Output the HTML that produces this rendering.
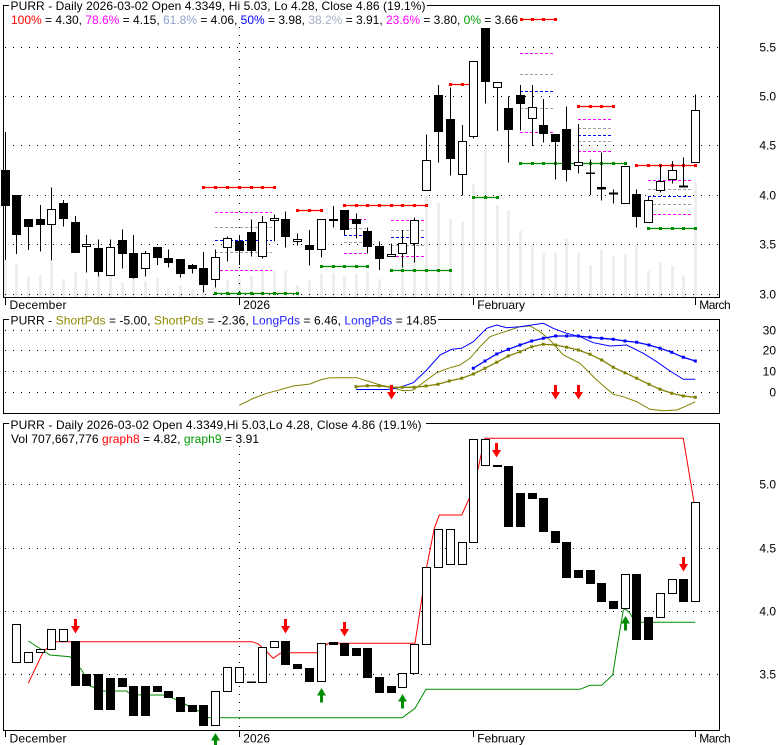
<!DOCTYPE html>
<html><head><meta charset="utf-8"><style>
html,body{margin:0;padding:0;background:#fff;}
svg{display:block;}
text{font-family:"Liberation Sans",Arial,sans-serif;font-size:12px;fill:#000;}
</style></head><body>
<svg width="780" height="745" viewBox="0 0 780 745" xmlns="http://www.w3.org/2000/svg">
<rect width="780" height="745" fill="#fff"/>

<!-- ============ TOP PANEL ============ -->
<!-- volume bars -->
<path stroke="#eeeeee" stroke-width="3" fill="none" d="M5.5 260V297M16.5 264V297M28.5 276.7V297M40.5 275V297M51.5 261.7V297M63.5 279V297M75.5 271.7V297M86.5 279V297M98.5 276.7V297M110.5 275.7V297M122.5 282.3V297M133.5 278.3V297M145.5 281.7V297M157.5 278V297M168.5 288.3V297M180.5 285V297M192.5 290V297M203.5 285V297M215.5 287.7V297M227.5 280V297M239.5 278.3V297M251.5 276V297M262.5 268V297M274.5 270.7V297M285.5 270.7V297M297.5 285V297M309.5 280V297M321.5 274V297M333.5 273.3V297M344.5 276V297M356.5 274V297M367.5 271.7V297M379.5 279.3V297M391.5 289.3V297M402.5 265V297M414.5 260V297M426.5 195V297M438.5 202.7V297M450.5 219V297M462.5 221.7V297M473.5 184.3V297M485.5 146.7V297M497.5 205V297M508.5 211V297M520.5 230.7V297M532.5 245V297M543.5 252.7V297M555.5 252.7V297M566.5 239V297M578.5 252.7V297M590.5 265V297M601.5 250V297M613.5 256.7V297M625.5 254V297M636.5 245V297M648.5 270.7V297M660.5 261.7V297M672.5 266V297M683.5 275.7V297M695.5 182.3V297"/>
<!-- gridlines -->
<path stroke="#000" stroke-width="1" stroke-dasharray="1 7" fill="none" d="M5 47.5H719M5 96.5H719M5 145.5H719M5 195.5H719M5 244.5H719M5 294.5H719M239.5 27V297"/>
<!-- fib dashed -->
<path stroke="#ff00ff" stroke-width="1" stroke-dasharray="3 2" fill="none" d="M215 212.5H272M215 270.5H272M344 219.5H366M344 253.5H366M391 220.5H424M391 256.5H424M520 53.5H553M520 132.5H553M578 119.5H613M578 151.5H613M648 180.5H693M648 214.5H693"/>
<path stroke="#a0a0a0" stroke-width="1" stroke-dasharray="3 2" fill="none" d="M215 227.5H272M215 252.5H272M344 228.5H366M344 242.5H366M391 230.5H424M391 245.5H424M520 74.5H553M520 108.5H553M578 128.5H613M578 141.5H613M648 189.5H693M648 204.5H693"/>
<path stroke="#0000ff" stroke-width="1" stroke-dasharray="3 2" fill="none" d="M215 240.5H272M344 235.5H366M391 237.5H424M520 91.5H553M578 135.5H613M648 196.5H693"/>
<!-- fib red solid -->
<path stroke="#ff0000" stroke-width="1.2" fill="none" d="M203.5 187.5H274.5M297.5 210.5H321.5M344.5 205.5H426.5M450.5 84.5H473.5M521 19.5H555.5M578.5 106.5H613.5M636.5 165.5H695.5"/>
<path fill="#ff0000" d="M202 186h3v3h-3zM214 186h3v3h-3zM226 186h3v3h-3zM238 186h3v3h-3zM250 186h3v3h-3zM261 186h3v3h-3zM273 186h3v3h-3zM296 209h3v3h-3zM308 209h3v3h-3zM320 209h3v3h-3zM343 204h3v3h-3zM355 204h3v3h-3zM366 204h3v3h-3zM378 204h3v3h-3zM390 204h3v3h-3zM401 204h3v3h-3zM413 204h3v3h-3zM425 204h3v3h-3zM449 83h3v3h-3zM461 83h3v3h-3zM520 18h3v3h-3zM531 18h3v3h-3zM542 18h3v3h-3zM554 18h3v3h-3zM577 105h3v3h-3zM589 105h3v3h-3zM600 105h3v3h-3zM612 105h3v3h-3zM635 164h3v3h-3zM647 164h3v3h-3zM659 164h3v3h-3zM671 164h3v3h-3zM682 164h3v3h-3zM694 164h3v3h-3z"/>
<!-- fib green solid -->
<path stroke="#008c00" stroke-width="1.2" fill="none" d="M215.5 293.5H297.5M321.5 266.5H367.5M391.5 270.5H450.5M473.5 197.5H497.5M520.5 163.5H625.5M648.5 228.5H695.5"/>
<path fill="#008c00" d="M214 292h3v3h-3zM226 292h3v3h-3zM238 292h3v3h-3zM250 292h3v3h-3zM261 292h3v3h-3zM273 292h3v3h-3zM284 292h3v3h-3zM296 292h3v3h-3zM320 265h3v3h-3zM332 265h3v3h-3zM343 265h3v3h-3zM355 265h3v3h-3zM366 265h3v3h-3zM390 269h3v3h-3zM401 269h3v3h-3zM413 269h3v3h-3zM425 269h3v3h-3zM437 269h3v3h-3zM449 269h3v3h-3zM472 196h3v3h-3zM484 196h3v3h-3zM496 196h3v3h-3zM519 162h3v3h-3zM531 162h3v3h-3zM542 162h3v3h-3zM554 162h3v3h-3zM565 162h3v3h-3zM577 162h3v3h-3zM589 162h3v3h-3zM600 162h3v3h-3zM612 162h3v3h-3zM624 162h3v3h-3zM647 227h3v3h-3zM659 227h3v3h-3zM671 227h3v3h-3zM682 227h3v3h-3zM694 227h3v3h-3z"/>
<!-- wicks -->
<path stroke="#000" stroke-width="1" fill="none" d="M5.5 132V260M16.5 195.5V254M28.5 219V250M40.5 205V251.5M51.5 187.5V260.5M63.5 200V226.5M75.5 216V252.5M86.5 235V272.5M98.5 239.5V276.5M110.5 239.5V275.5M122.5 229.5V268.5M133.5 235V278.5M145.5 251V276.5M157.5 247.5V265M168.5 249.5V267.5M180.5 259V277.5M192.5 264V273.5M203.5 252V292.5M215.5 249.5V287.5M227.5 236.5V261.5M239.5 236V265M251.5 219.5V256.5M262.5 216V258.5M274.5 214.5V241.5M285.5 211.5V247.5M297.5 233.5V245.5M309.5 230V265.5M321.5 219.5V257.5M333.5 206V227.5M344.5 210V235M356.5 213.5V238.5M367.5 227.5V253.5M379.5 241.5V270M391.5 243.5V256.5M402.5 230V267.5M414.5 217.5V262.5M426.5 134.5V190.5M438.5 85V162.5M450.5 87.5V175.5M462.5 125V195.5M473.5 61.5V138.5M485.5 28.5V103.5M497.5 82.5V131M508.5 96.5V162.5M520.5 85V130.5M532.5 85V146M543.5 99V142.5M555.5 134.5V179.5M566.5 106.5V181.5M578.5 124V173.5M590.5 159.5V195M601.5 152.5V200.5M613.5 189.5V203.5M625.5 166V203.5M636.5 189.5V227.5M648.5 196.5V222.5M660.5 164.5V192.5M672.5 161V183.5M683.5 157.5V187.5M695.5 94.5V162.5"/>
<!-- black bodies -->
<g fill="#000" stroke="#000" stroke-width="1">
<rect x="1.5" y="170.5" width="8" height="35"/>
<rect x="12.5" y="195.5" width="8" height="39"/>
<rect x="24.5" y="219.5" width="8" height="7"/>
<rect x="36.5" y="219.5" width="8" height="5"/>
<rect x="59.5" y="203.5" width="8" height="15"/>
<rect x="71.5" y="222.5" width="8" height="30"/>
<rect x="94.5" y="248.5" width="8" height="23"/>
<rect x="118.5" y="240.5" width="8" height="13"/>
<rect x="129.5" y="253.5" width="8" height="24"/>
<rect x="153.5" y="247.5" width="8" height="10"/>
<rect x="164.5" y="258.5" width="8" height="4"/>
<rect x="176.5" y="259.5" width="8" height="14"/>
<rect x="188.5" y="265.5" width="8" height="3"/>
<rect x="199.5" y="268.5" width="8" height="16"/>
<rect x="235.5" y="241.5" width="8" height="9"/>
<rect x="247.5" y="232.5" width="8" height="18"/>
<rect x="281.5" y="219.5" width="8" height="17"/>
<rect x="305.5" y="245.5" width="8" height="4"/>
<rect x="329.5" y="219.5" width="8" height="1"/>
<rect x="340.5" y="210.5" width="8" height="19"/>
<rect x="352.5" y="219.5" width="8" height="4"/>
<rect x="363.5" y="231.5" width="8" height="15"/>
<rect x="375.5" y="246.5" width="8" height="12"/>
<rect x="434.5" y="95.5" width="8" height="36"/>
<rect x="446.5" y="119.5" width="8" height="39"/>
<rect x="481.5" y="28.5" width="8" height="53"/>
<rect x="504.5" y="108.5" width="8" height="21"/>
<rect x="516.5" y="95.5" width="8" height="8"/>
<rect x="539.5" y="125.5" width="8" height="8"/>
<rect x="551.5" y="134.5" width="8" height="7"/>
<rect x="562.5" y="129.5" width="8" height="40"/>
<rect x="586.5" y="173" width="8" height="0.5"/>
<rect x="597.5" y="187.5" width="8" height="1.5"/>
<rect x="609.5" y="193" width="8" height="1"/>
<rect x="632.5" y="194.5" width="8" height="22"/>
<rect x="679.5" y="186" width="8" height="1"/>
</g>
<!-- white bodies -->
<g fill="#fff" stroke="#000" stroke-width="1">
<rect x="47.5" y="209.5" width="8" height="15"/>
<rect x="82.5" y="244.5" width="8" height="2"/>
<rect x="106.5" y="247.5" width="8" height="28"/>
<rect x="141.5" y="253.5" width="8" height="15"/>
<rect x="211.5" y="257.5" width="8" height="22"/>
<rect x="223.5" y="238.5" width="8" height="9"/>
<rect x="258.5" y="222.5" width="8" height="34"/>
<rect x="270.5" y="218.5" width="8" height="2"/>
<rect x="293.5" y="239.5" width="8" height="2"/>
<rect x="317.5" y="219.5" width="8" height="30"/>
<rect x="387.5" y="254.5" width="8" height="2"/>
<rect x="398.5" y="243.5" width="8" height="10"/>
<rect x="410.5" y="220.5" width="8" height="23"/>
<rect x="422.5" y="160.5" width="8" height="30"/>
<rect x="458.5" y="141.5" width="8" height="33"/>
<rect x="469.5" y="61.5" width="8" height="75"/>
<rect x="493.5" y="82.5" width="8" height="5"/>
<rect x="528.5" y="107.5" width="8" height="11"/>
<rect x="574.5" y="162.5" width="8" height="3"/>
<rect x="621.5" y="166.5" width="8" height="37"/>
<rect x="644.5" y="200.5" width="8" height="22"/>
<rect x="656.5" y="181.5" width="8" height="9"/>
<rect x="668.5" y="170.5" width="8" height="9"/>
<rect x="691.5" y="110.5" width="8" height="52"/>
</g>
<!-- frame -->
<path stroke="#000" stroke-width="1" fill="none" d="M9 5.5H3.5V297.5H719.5V5.5H427"/>
<!-- ticks -->
<path stroke="#000" stroke-width="1" d="M5.5 298V305M239.5 298V305M473.5 298V305M695.5 298V305"/>
<!-- titles -->
<text x="10.5" y="10" textLength="415">PURR - Daily 2026-03-02 Open 4.3349, Hi 5.03, Lo 4.28, Close 4.86 (19.1%)</text>
<text x="11" y="24" textLength="507"><tspan fill="#ff0000">100%</tspan> = 4.30, <tspan fill="#ff00ff">78.6%</tspan> = 4.15, <tspan fill="#8ea3cc">61.8%</tspan> = 4.06, <tspan fill="#0000ff">50%</tspan> = 3.98, <tspan fill="#a7aec6">38.2%</tspan> = 3.91, <tspan fill="#ff00ff">23.6%</tspan> = 3.80, <tspan fill="#00a000">0%</tspan> = 3.66</text>
<!-- price labels -->
<g text-anchor="end" fill="#222">
<text x="776" y="51.5">5.5</text>
<text x="776" y="100.5">5.0</text>
<text x="776" y="149.5">4.5</text>
<text x="776" y="199.5">4.0</text>
<text x="776" y="248.5">3.5</text>
<text x="776" y="298.5">3.0</text>
</g>
<!-- x labels top -->
<text x="9.5" y="309" textLength="57">December</text>
<text x="243.3" y="309" textLength="26.7">2026</text>
<text x="477.3" y="309" textLength="47.7">February</text>
<text x="699.3" y="309" textLength="31.4">March</text>

<!-- ============ MIDDLE PANEL ============ -->
<path stroke="#000" stroke-width="1" stroke-dasharray="1 7" fill="none" d="M5 330.5H719M5 350.5H719M5 371.5H719M5 392.5H719"/>
<polyline fill="none" stroke="#808000" stroke-width="1" points="239.3,405.3 253.3,398.3 266.7,393.3 276.7,390.7 293.3,386 310,384 320,380 330,377.7 356.7,377.7 370,381.7 380,385 390,387 403.3,390.7 413.3,390 426.7,380 436.7,372.7 448.3,368.3 460,365 470,358.3 480,346.7 490,336.7 500,333.3 510,330 520,326.7 530,326 540,331.7 550,340 563.3,355 580,363.3 596.7,380 613.3,394.3 623.3,396.7 636.7,401.7 650,409.3 663.3,410.7 676.7,410 683.3,407.3 695.3,401.7"/>
<polyline fill="none" stroke="#0000ff" stroke-width="1" points="356,389.5 388,389.5 400,387.3 413.3,382.7 426.7,370 440,355 451.7,349.3 461.7,348.3 473.3,341.7 486.7,328.3 496.7,325 506.7,327.7 520,326.7 530,325.3 543.3,323.3 553.3,328.3 566.7,333.3 580,336.7 593.3,342.7 610,346 626.7,345 643.3,353.3 656.7,361.7 670,371 683.3,379.3 695.3,379.3"/>
<polyline fill="none" stroke="#808000" stroke-width="1.3" points="356,386.7 367.3,385.7 379.3,385.7 391,387.3 402.3,387.3 414,387.3 426,386 438,384.3 449.3,381 461.7,378.3 473.3,374 485,368.3 496.7,362.3 508.3,356 520,351.7 531.7,346.7 543.3,344.3 555.7,345 566.7,347.3 578.3,350 590,354.3 601.7,360 613.3,367.3 625,372.7 636.7,378.3 649,384.3 660,389.3 671.7,393.3 683.3,396 695.3,397.3"/>
<path fill="#808000" d="M354.5 385.2h3v3h-3zM365.8 384.2h3v3h-3zM377.8 384.2h3v3h-3zM389.5 385.8h3v3h-3zM400.8 385.8h3v3h-3zM412.5 385.8h3v3h-3zM424.5 384.5h3v3h-3zM436.5 382.8h3v3h-3zM447.8 379.5h3v3h-3zM460.2 376.8h3v3h-3zM471.8 372.5h3v3h-3zM483.5 366.8h3v3h-3zM495.2 360.8h3v3h-3zM506.8 354.5h3v3h-3zM518.5 350.2h3v3h-3zM530.2 345.2h3v3h-3zM541.8 342.8h3v3h-3zM554.2 343.5h3v3h-3zM565.2 345.8h3v3h-3zM576.8 348.5h3v3h-3zM588.5 352.8h3v3h-3zM600.2 358.5h3v3h-3zM611.8 365.8h3v3h-3zM623.5 371.2h3v3h-3zM635.2 376.8h3v3h-3zM647.5 382.8h3v3h-3zM658.5 387.8h3v3h-3zM670.2 391.8h3v3h-3zM681.8 394.5h3v3h-3zM693.8 395.8h3v3h-3z"/>
<polyline fill="none" stroke="#0000ff" stroke-width="1.3" points="473.3,368.3 485,361 496.7,354 508.3,349.3 520,345 531.7,341 543.3,338.3 555.7,336 566.7,336 578.3,336 590,337.3 601.7,338.3 613.3,339.3 625,341 636.7,342.3 649,345 660,348.3 671.7,352.3 683.3,357.3 695.3,361"/>
<path fill="#0000ff" d="M471.8 366.8h3v3h-3zM483.5 359.5h3v3h-3zM495.2 352.5h3v3h-3zM506.8 347.8h3v3h-3zM518.5 343.5h3v3h-3zM530.2 339.5h3v3h-3zM541.8 336.8h3v3h-3zM554.2 334.5h3v3h-3zM565.2 334.5h3v3h-3zM576.8 334.5h3v3h-3zM588.5 335.8h3v3h-3zM600.2 336.8h3v3h-3zM611.8 337.8h3v3h-3zM623.5 339.5h3v3h-3zM635.2 340.8h3v3h-3zM647.5 343.5h3v3h-3zM658.5 346.8h3v3h-3zM670.2 350.8h3v3h-3zM681.8 355.8h3v3h-3zM693.8 359.5h3v3h-3z"/>
<path fill="#ff0000" d="M390 385h3v7h3l-4.5 7.5l-4.5-7.5h3zM554 385h3v7h3l-4.5 7.5l-4.5-7.5h3zM577 385h3v7h3l-4.5 7.5l-4.5-7.5h3z"/>
<path stroke="#000" stroke-width="1" fill="none" d="M9 319.5H3.5V413.5H719.5V319.5H438"/>
<text x="10.5" y="324.3" textLength="426">PURR - <tspan fill="#8b8b00">ShortPds</tspan> = -5.00, <tspan fill="#8b8b00">ShortPds</tspan> = -2.36, <tspan fill="#2020ff">LongPds</tspan> = 6.46, <tspan fill="#2020ff">LongPds</tspan> = 14.85</text>
<g text-anchor="end" fill="#222">
<text x="776" y="334.5">30</text>
<text x="776" y="354.5">20</text>
<text x="776" y="375.5">10</text>
<text x="776" y="396.5">0</text>
</g>

<!-- ============ BOTTOM PANEL ============ -->
<path stroke="#000" stroke-width="1" stroke-dasharray="1 7" fill="none" d="M5 484.5H719M5 548.5H719M5 611.5H719M5 674.5H719M239.5 446V730"/>
<polyline fill="none" stroke="#ff0000" stroke-width="1" points="28.3,683.3 43.3,651.7 55,641.7 252.3,641.7 258.3,644 265,650 273.3,658.3 280,653.3 283,652.7 316.7,652.7 328.3,643.3 415,643.3 421.7,599.3 426.7,566.7 434.3,528.3 439.3,515 461.7,515 469,499 473.5,484 478.3,468 481,455 485,438.3 683.3,438.3 694,502.3"/>
<polyline fill="none" stroke="#008c00" stroke-width="1" points="28.3,641 50,655 70,656.7 81.7,670 90,686 103.3,691 126.7,691 128.3,692.7 140,695 163,695 173.3,698.3 186.7,705 200,711.7 208.3,717.7 402.3,717.7 415,708.3 426,689.3 580,689.3 590,685.3 601.7,685.3 612.7,675 618.3,640 623.3,610 625.7,609.3 630,613.3 635,622.3 695.3,622.3"/>
<g fill="#000" stroke="#000" stroke-width="1">
<rect x="71.5" y="641.5" width="8" height="44"/>
<rect x="82.5" y="674.5" width="8" height="11"/>
<rect x="94.5" y="674.5" width="8" height="35"/>
<rect x="106.5" y="678.5" width="8" height="31"/>
<rect x="118.5" y="678.5" width="8" height="8"/>
<rect x="129.5" y="686.5" width="8" height="29"/>
<rect x="141.5" y="686.5" width="8" height="29"/>
<rect x="153.5" y="686.5" width="8" height="5"/>
<rect x="164.5" y="691.5" width="8" height="6"/>
<rect x="176.5" y="697.5" width="8" height="14"/>
<rect x="188.5" y="705.5" width="8" height="6"/>
<rect x="199.5" y="705.5" width="8" height="20"/>
<rect x="247.5" y="682" width="8" height="0.5"/>
<rect x="281.5" y="641.5" width="8" height="23"/>
<rect x="293.5" y="664.5" width="8" height="4"/>
<rect x="305.5" y="668.5" width="8" height="13"/>
<rect x="329.5" y="642.5" width="8" height="2"/>
<rect x="340.5" y="643.5" width="8" height="12"/>
<rect x="352.5" y="648.5" width="8" height="7"/>
<rect x="363.5" y="648.5" width="8" height="29"/>
<rect x="375.5" y="677.5" width="8" height="15"/>
<rect x="387.5" y="686.5" width="8" height="6"/>
<rect x="493.5" y="465.5" width="8" height="1"/>
<rect x="504.5" y="466.5" width="8" height="60"/>
<rect x="516.5" y="493.5" width="8" height="33"/>
<rect x="528.5" y="493.5" width="8" height="5"/>
<rect x="539.5" y="498.5" width="8" height="33"/>
<rect x="551.5" y="531.5" width="8" height="11"/>
<rect x="562.5" y="542.5" width="8" height="35"/>
<rect x="574.5" y="570.5" width="8" height="7"/>
<rect x="586.5" y="570.5" width="8" height="13"/>
<rect x="597.5" y="583.5" width="8" height="18"/>
<rect x="609.5" y="601.5" width="8" height="7"/>
<rect x="632.5" y="574.5" width="8" height="65"/>
<rect x="644.5" y="617.5" width="8" height="22"/>
<rect x="679.5" y="579.5" width="8" height="22"/>
</g>
<g fill="#fff" stroke="#000" stroke-width="1">
<rect x="12.5" y="624.5" width="8" height="38"/>
<rect x="24.5" y="652.5" width="8" height="10"/>
<rect x="36.5" y="649.5" width="8" height="3"/>
<rect x="47.5" y="629.5" width="8" height="20"/>
<rect x="59.5" y="629.5" width="8" height="12"/>
<rect x="211.5" y="691.5" width="8" height="34"/>
<rect x="223.5" y="667.5" width="8" height="24"/>
<rect x="235.5" y="667.5" width="8" height="15"/>
<rect x="258.5" y="647.5" width="8" height="35"/>
<rect x="270.5" y="641.5" width="8" height="6"/>
<rect x="317.5" y="643.5" width="8" height="38"/>
<rect x="398.5" y="673.5" width="8" height="14"/>
<rect x="410.5" y="644.5" width="8" height="29"/>
<rect x="422.5" y="567.5" width="8" height="77"/>
<rect x="434.5" y="529.5" width="8" height="38"/>
<rect x="446.5" y="529.5" width="8" height="35"/>
<rect x="458.5" y="542.5" width="8" height="22"/>
<rect x="469.5" y="439.5" width="8" height="103"/>
<rect x="481.5" y="439.5" width="8" height="26"/>
<rect x="621.5" y="574.5" width="8" height="34"/>
<rect x="656.5" y="593.5" width="8" height="24"/>
<rect x="668.5" y="579.5" width="8" height="14"/>
<rect x="691.5" y="502.5" width="8" height="99"/>
</g>
<!-- arrows -->
<path fill="#ff0000" d="M74 619h3v7h3l-4.5 7.5l-4.5-7.5h3zM284 619h3v7h3l-4.5 7.5l-4.5-7.5h3zM343 622h3v7h3l-4.5 7.5l-4.5-7.5h3zM495 443h3v7h3l-4.5 7.5l-4.5-7.5h3zM682 557h3v7h3l-4.5 7.5l-4.5-7.5h3z"/>
<path fill="#008c00" d="M215.5 733l4.5 7.5h-3v7h-3v-7h-3zM321.5 688l4.5 7.5h-3v7h-3v-7h-3zM402.5 694l4.5 7.5h-3v7h-3v-7h-3zM625.5 616l4.5 7.5h-3v7h-3v-7h-3z"/>
<path stroke="#000" stroke-width="1" fill="none" d="M9 423.5H3.5V730.5H719.5V423.5H426"/>
<path stroke="#000" stroke-width="1" d="M5.5 731V737M239.5 731V737M473.5 731V737M695.5 731V737"/>
<text x="10.5" y="429" textLength="411">PURR - Daily 2026-03-02 Open 4.3349,Hi 5.03,Lo 4.28, Close 4.86 (19.1%)</text>
<text x="11" y="443" textLength="248">Vol 707,667,776 <tspan fill="#ff0000">graph8</tspan> = 4.82, <tspan fill="#009900">graph9</tspan> = 3.91</text>
<g text-anchor="end" fill="#222">
<text x="776" y="488.5">5.0</text>
<text x="776" y="552.5">4.5</text>
<text x="776" y="615.5">4.0</text>
<text x="776" y="678.5">3.5</text>
</g>
<text x="9.5" y="742.7" textLength="57">December</text>
<text x="243.3" y="742.7" textLength="26.7">2026</text>
<text x="477.3" y="742.7" textLength="47.7">February</text>
<text x="699.3" y="742.7" textLength="31.4">March</text>
</svg>
</body></html>
